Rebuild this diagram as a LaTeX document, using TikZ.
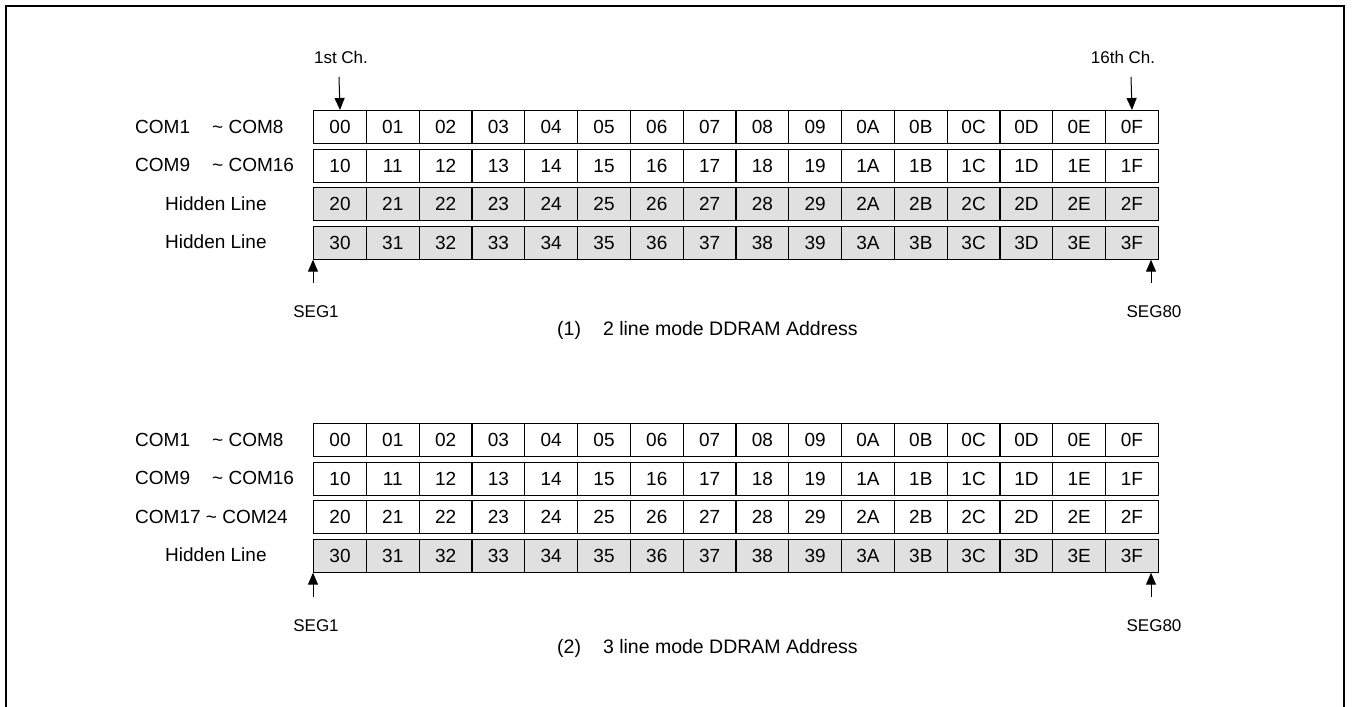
\documentclass[tikz,border=0pt]{standalone}
\usepackage{fontspec}
\setmainfont{Liberation Sans}
\usetikzlibrary{arrows.meta}
\definecolor{hidgray}{RGB}{224,224,224}
\tikzset{
  cell/.style={draw, line width=1.2pt, minimum width=52.8pt, minimum height=33pt,
    inner sep=0pt, anchor=north west, font=\fontsize{19}{21}\selectfont},
  rowlbl/.style={anchor=west, inner sep=0pt, font=\fontsize{19}{21}\selectfont},
  small/.style={inner sep=0pt, font=\fontsize{17}{19}\selectfont},
  caption/.style={anchor=base west, inner sep=0pt, font=\fontsize{19.5}{21}\selectfont},
  pointer/.style={-{Triangle[length=12pt,width=10pt]}, line width=1pt}
}

\begin{document}
\begin{tikzpicture}[x=1pt, y=-1pt]
    \useasboundingbox (0,0) rectangle (1353,707);
    \draw[line width=2pt] (6,707) -- (6,6) -- (1344,6) -- (1344,707);

    % (1) 2 line mode
    \foreach \r/\y/\fc in {0/110/white, 1/148.5/white, 2/187/hidgray, 3/225.5/hidgray}
      \foreach \d [count=\i from 0] in {0,1,2,3,4,5,6,7,8,9,A,B,C,D,E,F}
        \node[cell, fill=\fc] (a\r\d) at (313+52.8*\i, \y) {\r\d};
    \node[rowlbl] (la0) at (135, 126.5) {COM1};
    \node[rowlbl] (la0b) at (212, 126.5) {\textasciitilde{} COM8};
    \node[rowlbl] (la1) at (135, 165) {COM9};
    \node[rowlbl] (la1b) at (212, 165) {\textasciitilde{} COM16};
    \node[rowlbl] (la2) at (165, 203.5) {Hidden Line};
    \node[rowlbl] (la3) at (165, 242) {Hidden Line};
    \node[small] (firstch) at (341, 57) {1st Ch.};
    \node[small] (lastch) at (1123, 57) {16th Ch.};
    \coordinate (pa1) at (339, 77);
    \coordinate (pa16) at (1131, 77);
    \draw[pointer] (pa1) -- (a00.north);
    \draw[pointer] (pa16) -- (a0F.north);
    \coordinate (sa1) at (313, 283);
    \coordinate (sa80) at (1151, 283);
    \draw[pointer] (sa1) -- (a30.south west);
    \draw[pointer] (sa80) -- (sa80 |- a3F.south);
    \node[small] (segA1) at (316, 312) {SEG1};
    \node[small] (segA80) at (1154, 312) {SEG80};
    \node[caption] (capA) at (557, 335) {(1)\hspace{22pt}2 line mode DDRAM Address};

    % (2) 3 line mode
    \foreach \r/\y/\fc in {0/423/white, 1/461.5/white, 2/500/white, 3/538.5/hidgray}
      \foreach \d [count=\i from 0] in {0,1,2,3,4,5,6,7,8,9,A,B,C,D,E,F}
        \node[cell, fill=\fc] (b\r\d) at (313+52.8*\i, \y) {\r\d};
    \node[rowlbl] (lb0) at (135, 439.5) {COM1};
    \node[rowlbl] (lb0b) at (212, 439.5) {\textasciitilde{} COM8};
    \node[rowlbl] (lb1) at (135, 478) {COM9};
    \node[rowlbl] (lb1b) at (212, 478) {\textasciitilde{} COM16};
    \node[rowlbl] (lb2) at (135, 516.5) {COM17 \textasciitilde{} COM24};
    \node[rowlbl] (lb3) at (165, 555) {Hidden Line};
    \coordinate (sb1) at (313, 597);
    \coordinate (sb80) at (1151, 597);
    \draw[pointer] (sb1) -- (b30.south west);
    \draw[pointer] (sb80) -- (sb80 |- b3F.south);
    \node[small] (segB1) at (316, 626) {SEG1};
    \node[small] (segB80) at (1154, 626) {SEG80};
    \node[caption] (capB) at (557, 653) {(2)\hspace{22pt}3 line mode DDRAM Address};
\end{tikzpicture}
\end{document}
